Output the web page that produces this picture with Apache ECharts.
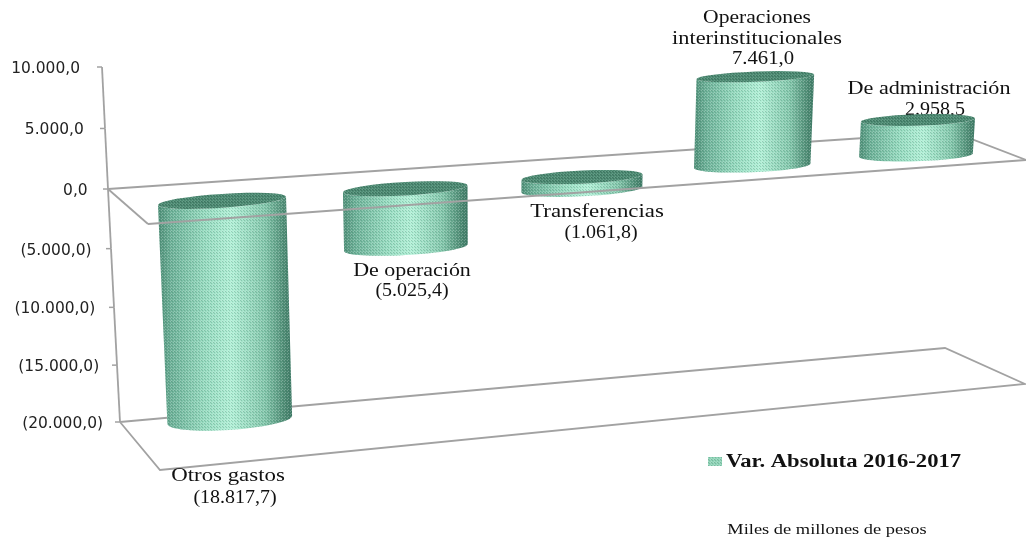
<!DOCTYPE html>
<html>
<head>
<meta charset="utf-8">
<style>
  html, body { margin: 0; padding: 0; background: #fff; }
  #main { width: 1026px; height: 538px; }
</style>
<script src="https://cdn.jsdelivr.net/npm/echarts@6/dist/echarts.min.js"></script>
</head>
<body>
<div id="main"></div>
<script>
// data
var categories = ['Otros gastos', 'De operación', 'Transferencias', 'Operaciones interinstitucionales', 'De administración'];
var values = [-18817.7, -5025.4, -1061.8, 7461.0, 2958.5];
var valueLabels = ['(18.817,7)', '(5.025,4)', '(1.061,8)', '7.461,0', '2.958,5'];
var yTicks = [10000, 5000, 0, -5000, -10000, -15000, -20000];
var yTickLabels = ['10.000,0', '5.000,0', '0,0', '(5.000,0)', '(10.000,0)', '(15.000,0)', '(20.000,0)'];
var seriesName = 'Var. Absoluta 2016-2017';
var unitNote = 'Miles de millones de pesos';

var SERIF = '"Liberation Serif", serif';
var SANS = '"DejaVu Sans", sans-serif';
var LINE = '#a2a2a2';

// fine dither that sits over the cylinders
function ditherTile(dark, light) {
  var c = document.createElement('canvas');
  c.width = 3;
  c.height = 3;
  var g = c.getContext('2d');
  g.fillStyle = dark;
  g.fillRect(0, 0, 1, 1);
  g.fillRect(1, 1, 1, 1);
  g.fillStyle = light;
  g.fillRect(2, 0, 1, 1);
  g.fillRect(0, 2, 1, 1);
  return { image: c, repeat: 'repeat' };
}
var bodyTexture = ditherTile('rgba(40,90,72,0.22)', 'rgba(255,255,255,0.22)');
var lidTexture = ditherTile('rgba(20,60,45,0.28)', 'rgba(190,235,215,0.2)');

// the picture is a 3D perspective, so the flat axes get bent a little
function bow(t) {
  return 4 * t * (1 - t);
}
function warpY(y, sys) {
  return y + 4.15 * bow((y - sys.y) / sys.height);
}
function project(api, sys, index, value) {
  var p = api.coord([index, value]);
  var zero = api.coord([index, 0]);
  var x = p[0] + 13 * bow(index / 4);
  var zeroY = warpY(zero[1], sys) + 18 - 0.066 * (x - 128);
  var gain = 0.98 * (1 + 0.02 * (value / 20000) * (value / 20000));
  var dy = (warpY(p[1], sys) - warpY(zero[1], sys)) * gain;
  return [x + (490 - x) * 0.000132 * dy, zeroY + dy];
}
function radiusY(y) {
  return 4 + y * 0.0145;
}
function ellipsePoints(c, rx, tilt, from, to) {
  var pts = [];
  var ry = radiusY(c[1]);
  for (var i = 0; i <= 32; i++) {
    var a = from + (to - from) * i / 32;
    pts.push([c[0] + rx * Math.cos(a), c[1] - tilt * rx * Math.cos(a) + ry * Math.sin(a)]);
  }
  return pts;
}

function renderCylinder(params, api) {
  var sys = params.coordSys;
  var index = api.value(0);
  var value = api.value(1);
  var a = project(api, sys, index, 0);
  var b = project(api, sys, index, value);
  var top = a[1] < b[1] ? a : b;
  var bottom = a[1] < b[1] ? b : a;
  var rx = api.size([1, 0])[0] * (0.369 - 0.04 * index / 4);
  var rxBottom = rx * (1 - (bottom[1] - top[1]) * 0.00012);
  var tilt = 0.065 - 0.035 * index / 4;

  // right edge, front of the base, then back along the top
  var body = ellipsePoints(bottom, rxBottom, tilt, 0, Math.PI).concat(ellipsePoints(top, rx, tilt, Math.PI, 0));
  var lid = ellipsePoints(top, rx, tilt, 0, Math.PI * 2);
  var sideFill = {
    type: 'linear', x: 0, y: 0, x2: 1, y2: 0,
    colorStops: [
      { offset: 0, color: '#4f8f78' },
      { offset: 0.1, color: '#6fb39a' },
      { offset: 0.35, color: '#98dcc1' },
      { offset: 0.55, color: '#b2f0d7' },
      { offset: 0.8, color: '#84c7ac' },
      { offset: 0.95, color: '#4d8a73' },
      { offset: 1, color: '#3f7a66' }
    ]
  };
  return {
    type: 'group',
    children: [
      { type: 'polygon', shape: { points: body }, style: { fill: sideFill } },
      { type: 'polygon', shape: { points: body }, style: { fill: bodyTexture } },
      { type: 'polygon', shape: { points: lid }, style: { fill: '#4e8a73' } },
      { type: 'polygon', shape: { points: lid }, style: { fill: lidTexture } }
    ]
  };
}

function axisPoint(y, sys) {
  var t = (y - sys.y) / sys.height;
  return [102 + 18 * t, warpY(y, sys), t];
}
function renderTick(params, api) {
  var sys = params.coordSys;
  var i = params.dataIndex;
  var p = axisPoint(api.coord([0, api.value(0)])[1], sys);
  var children = [
    { type: 'line', shape: { x1: p[0] - 5, y1: p[1], x2: p[0], y2: p[1] }, style: { stroke: LINE, lineWidth: 1.5 } },
    {
      type: 'text', x: p[0] - 22 + 5 * p[2], y: p[1] + 2, scaleX: 1.03,
      style: { text: yTickLabels[i], font: '15px ' + SANS, fill: '#222', textAlign: 'right', textVerticalAlign: 'middle' }
    }
  ];
  if (i > 0) {
    var prev = axisPoint(api.coord([0, yTicks[i - 1]])[1], sys);
    children.push({ type: 'line', shape: { x1: prev[0], y1: prev[1], x2: p[0], y2: p[1] }, style: { stroke: LINE, lineWidth: 1.8 } });
  }
  return { type: 'group', children: children };
}

function serifText(text, x, y, size, scaleX, z, weight) {
  return {
    type: 'text', x: x, y: y, scaleX: scaleX, z: z,
    style: {
      text: text, fill: '#111', textAlign: 'center', textVerticalAlign: 'middle',
      font: (weight ? weight + ' ' : '') + size + 'px ' + SERIF
    }
  };
}
function frameLine(points, z) {
  return { type: 'polyline', z: z, shape: { points: points }, style: { stroke: LINE, fill: 'none', lineWidth: 1.8 } };
}

var graphics = [
  // zero plane, its front edge runs across the cylinders
  frameLine([[108, 189], [953, 132], [1026, 160]], 0),
  frameLine([[108, 189], [148, 224]], 0),
  frameLine([[148, 224], [1026, 160]], 5),
  // floor
  frameLine([[120, 422], [945, 348], [1025, 384], [160, 470], [120, 422]], 0),
  // category labels
  serifText(categories[0], 228, 476, 18, 1.27, 6),
  serifText(valueLabels[0], 235, 498, 18, 1.11, 6),
  serifText(categories[1], 412, 271, 18, 1.22, 6),
  serifText(valueLabels[1], 412, 291, 18, 1.11, 6),
  serifText(categories[2], 597, 212, 18, 1.27, 6),
  serifText(valueLabels[2], 601, 233, 18, 1.11, 6),
  serifText('Operaciones', 757, 18, 18, 1.2, 6),
  serifText('interinstitucionales', 757, 39, 18, 1.24, 6),
  serifText(valueLabels[3], 763, 59, 18, 1.15, 6),
  serifText(categories[4], 929, 89, 18, 1.23, 6),
  serifText(valueLabels[4], 935, 110, 18, 1.11, 0),
  serifText(unitNote, 827, 530, 14, 1.315, 6),
  // legend
  {
    type: 'rect', z: 6, shape: { x: 708, y: 457, width: 14, height: 9 },
    style: { fill: '#8fd3b7' }
  },
  {
    type: 'rect', z: 6, shape: { x: 708, y: 457, width: 14, height: 9 },
    style: { fill: bodyTexture }
  },
  serifText(seriesName, 843.5, 462, 18, 1.256, 6, 'bold')
];

var chartDom = document.getElementById('main');
var myChart = echarts.init(chartDom);
var option = {
  animation: false,
  backgroundColor: '#fff',
  grid: { left: 135.25, right: 23.25, top: 67, bottom: 116 },
  xAxis: { type: 'category', data: categories, show: false },
  yAxis: { type: 'value', min: -20000, max: 10000, interval: 5000, show: false },
  graphic: graphics,
  series: [
    {
      name: 'ticks',
      type: 'custom',
      z: 1,
      silent: true,
      data: yTicks.map(function (v) { return [v]; }),
      encode: { y: 0 },
      renderItem: renderTick
    },
    {
      name: seriesName,
      type: 'custom',
      z: 2,
      itemStyle: { color: '#8fd3b7' },
      data: values.map(function (v, i) { return [i, v]; }),
      encode: { x: 0, y: 1 },
      renderItem: renderCylinder
    }
  ]
};
option && myChart.setOption(option);
</script>
</body>
</html>
